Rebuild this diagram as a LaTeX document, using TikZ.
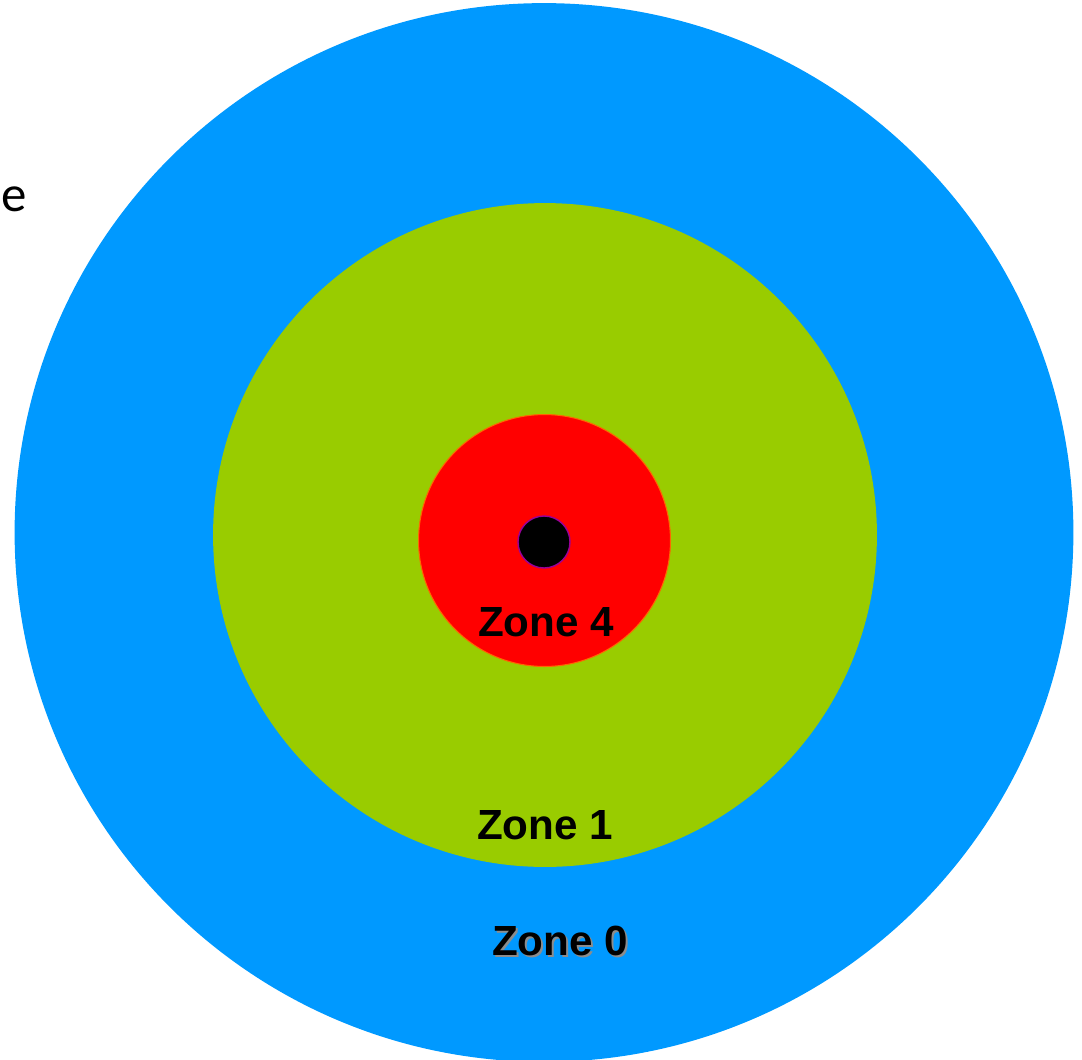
\documentclass[tikz,border=0pt]{standalone}
\usepackage{fontspec}
\setmainfont{Liberation Sans}
\newfontfamily\bodyfont{Carlito}
\usepackage{tikz}
\usetikzlibrary{positioning}
\definecolor{zoneblue}{HTML}{0099FF}
\definecolor{zonegreen}{HTML}{99CC00}
\definecolor{zonered}{HTML}{FF0000}
\definecolor{rededge}{HTML}{FF6600}
\definecolor{dotedge}{HTML}{990099}
\tikzset{
  zone/.style      = {circle, inner sep=0pt, outer sep=0pt},
  zonelabel/.style = {font=\bfseries\fontsize{24}{28}\selectfont, anchor=base, inner sep=0pt},
  shadow/.style    = {zonelabel, text=black!45},
}

\begin{document}
\begin{tikzpicture}[x=0.02cm,y=-0.02cm]
  \useasboundingbox (0,0) rectangle (1082,1059);
  \clip (0,0) rectangle (1082,1059);
  \node[zone, fill=zoneblue, minimum size=21.18cm] (z0) at (544,532.5) {};
  \node[zone, fill=zonegreen, minimum size=13.28cm] (z1) at (545,535) {};
  \node[zone, fill=zonered, draw=rededge, line width=0.6pt, minimum size=5.04cm] (z4) at (544.5,540.5) {};
  \node[zone, fill=black, draw=dotedge, line width=0.8pt, minimum size=1.04cm] (src) at (544,542) {};
  % labels
  \node[zonelabel] (l4) at (546,636) {Zone 4};
  \node[zonelabel] (l1) at (545,839) {Zone 1};
  \node[shadow] (l0s) at (562,957) {Zone 0};
  \node[zonelabel] (l0) at (560,955) {Zone 0};
  \node[font=\bodyfont\fontsize{29}{34}\selectfont, anchor=base west, inner sep=0pt] (cut) at (1,211) {e};
\end{tikzpicture}
\end{document}
